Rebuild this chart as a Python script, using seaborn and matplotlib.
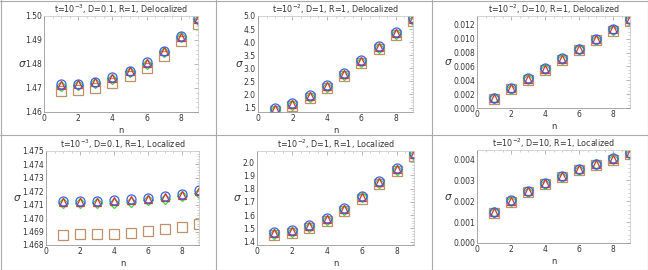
import numpy as np
import pandas as pd
import matplotlib
matplotlib.use("Agg")
import matplotlib.pyplot as plt
from matplotlib.lines import Line2D
from matplotlib.ticker import MultipleLocator, FormatStrFormatter
import seaborn as sns

sns.set_theme(style="white")
plt.rcParams['font.family'] = ['DejaVu Sans']

n = [1, 2, 3, 4, 5, 6, 7, 8, 9]

titles = [
    "t=10$^{-3}$, D=0.1, R=1, Delocalized",
    "t=10$^{-2}$, D=1, R=1, Delocalized",
    "t=10$^{-2}$, D=10, R=1, Delocalized",
    "t=10$^{-3}$, D=0.1, R=1, Localized",
    "t=10$^{-2}$, D=1, R=1, Localized",
    "t=10$^{-2}$, D=10, R=1, Localized",
]

# Panel 1
p1_circle = [1.4715, 1.4718, 1.4727, 1.4745, 1.4772, 1.4808, 1.4856, 1.4918, 1.4990]
p1_triangle = [1.4712, 1.4715, 1.4724, 1.4742, 1.4769, 1.4805, 1.4853, 1.4914, 1.4986]
p1_diamond = [1.4709, 1.4712, 1.4721, 1.4739, 1.4766, 1.4802, 1.4850, 1.4911, 1.4982]
p1_square = [1.4688, 1.4692, 1.4702, 1.4720, 1.4748, 1.4785, 1.4833, 1.4894, 1.4968]
# Panel 2
p2_circle = [1.48, 1.66, 1.97, 2.37, 2.83, 3.33, 3.86, 4.39, 4.93]
p2_triangle = [1.45, 1.63, 1.93, 2.33, 2.79, 3.29, 3.82, 4.35, 4.89]
p2_diamond = [1.42, 1.60, 1.90, 2.30, 2.76, 3.26, 3.79, 4.32, 4.86]
p2_square = [1.38, 1.55, 1.85, 2.25, 2.71, 3.21, 3.73, 4.26, 4.79]
# Panel 3
p3_circle = [0.00150, 0.00290, 0.00432, 0.00575, 0.00718, 0.00860, 0.01003, 0.01145, 0.01288]
p3_triangle = [0.00145, 0.00284, 0.00426, 0.00568, 0.00711, 0.00853, 0.00995, 0.01137, 0.01280]
p3_diamond = [0.00140, 0.00279, 0.00420, 0.00562, 0.00704, 0.00846, 0.00988, 0.01130, 0.01272]
p3_square = [0.00132, 0.00270, 0.00411, 0.00553, 0.00694, 0.00836, 0.00977, 0.01119, 0.01260]
# Panel 4
p4_circle = [1.47128, 1.47128, 1.47129, 1.47133, 1.47140, 1.47150, 1.47163, 1.47182, 1.47207]
p4_triangle = [1.47122, 1.47122, 1.47123, 1.47127, 1.47134, 1.47144, 1.47157, 1.47176, 1.47201]
p4_diamond = [1.47111, 1.47111, 1.47112, 1.47116, 1.47123, 1.47133, 1.47146, 1.47165, 1.47190]
p4_square = [1.46878, 1.46879, 1.46881, 1.46885, 1.46893, 1.46903, 1.46917, 1.46935, 1.46960]
# Panel 5
p5_circle = [1.475, 1.490, 1.525, 1.580, 1.657, 1.748, 1.858, 1.958, 2.072]
p5_triangle = [1.468, 1.483, 1.518, 1.573, 1.650, 1.741, 1.851, 1.951, 2.065]
p5_diamond = [1.461, 1.476, 1.511, 1.566, 1.643, 1.734, 1.844, 1.944, 2.058]
p5_square = [1.450, 1.465, 1.500, 1.555, 1.632, 1.723, 1.833, 1.933, 2.047]
# Panel 6
p6_circle = [0.00150, 0.00205, 0.00250, 0.00288, 0.00322, 0.00354, 0.00380, 0.00406, 0.00432]
p6_triangle = [0.00148, 0.00203, 0.00248, 0.00286, 0.00320, 0.00352, 0.00378, 0.00404, 0.00430]
p6_diamond = [0.00146, 0.00201, 0.00246, 0.00284, 0.00318, 0.00350, 0.00376, 0.00402, 0.00428]
p6_square = [0.00143, 0.00198, 0.00243, 0.00281, 0.00315, 0.00347, 0.00373, 0.00399, 0.00425]

panels = [
    (p1_circle, p1_triangle, p1_diamond, p1_square),
    (p2_circle, p2_triangle, p2_diamond, p2_square),
    (p3_circle, p3_triangle, p3_diamond, p3_square),
    (p4_circle, p4_triangle, p4_diamond, p4_square),
    (p5_circle, p5_triangle, p5_diamond, p5_square),
    (p6_circle, p6_triangle, p6_diamond, p6_square),
]

ylims = [(1.46, 1.50), (1.33, 5.0), (0.0, 0.0133), (1.468, 1.475), (1.375, 2.085), (0.0, 0.00445)]
ysteps = [0.01, 0.5, 0.002, 0.001, 0.1, 0.001]
yfmts = ["%.2f", "%.1f", "%.3f", "%.3f", "%.1f", "%.3f"]
yminor = [0.002, 0.1, 0.0005, 0.0002, 0.02, 0.0002]

# series style: (marker, color, size) in draw order
series_styles = [
    ("s", "#c09068", 7.5),
    ("D", "#33dd33", 5.0),
    ("^", "#e03030", 6.0),
    ("o", "#3a5ef0", 6.5),
]

W, H = 648, 270
fig = plt.figure(figsize=(W / 100, H / 100), dpi=100)

# axes boxes in pixels: left, right, top, bottom
boxes = [
    (44, 198, 16, 112),
    (258, 413, 16, 112),
    (477, 630, 16, 108),
    (46, 199, 151, 245),
    (257, 414, 151, 245),
    (477, 630, 150, 243),
]
# horizontal offset (px) of the sigma label centre from the axes' left edge
sigma_offsets = [22, 19, 29, 29, 20, 29]

for i, (box, data) in enumerate(zip(boxes, panels)):
    l, r, t, b = box
    ax = fig.add_axes([l / W, 1 - b / H, (r - l) / W, (b - t) / H])
    circle, tri, dia, sq = data
    order = [sq, dia, tri, circle]
    for vals, (mk, col, ms) in zip(order, series_styles):
        df = pd.DataFrame({"n": n, "sigma": vals})
        sns.lineplot(data=df, x="n", y="sigma", ax=ax, marker=mk, linestyle="",
                     markerfacecolor="none", markeredgecolor=col, markeredgewidth=0.9,
                     markersize=ms, color=col, legend=False)
    ax.set_xlim(0, 9)
    ax.set_ylim(*ylims[i])
    ax.xaxis.set_major_locator(MultipleLocator(2))
    ax.xaxis.set_minor_locator(MultipleLocator(0.5))
    ax.yaxis.set_major_locator(MultipleLocator(ysteps[i]))
    ax.yaxis.set_minor_locator(MultipleLocator(yminor[i]))
    ax.yaxis.set_major_formatter(FormatStrFormatter(yfmts[i]))
    ax.tick_params(axis="both", which="major", direction="in", length=3, width=0.5,
                   labelsize=5.5, colors="#999999", labelcolor="#333333", pad=1.5)
    ax.tick_params(axis="both", which="minor", direction="in", length=1.5, width=0.4,
                   colors="#aaaaaa")
    ax.tick_params(top=True, right=True, which="both")
    ax.set_xlabel("n", fontsize=6, color="#333333", labelpad=2)
    ax.set_ylabel("σ", fontsize=7.5, color="#333333", rotation=0,
                  fontstyle="italic", va="center", ha="center")
    ax.yaxis.set_label_coords(-sigma_offsets[i] / (r - l), 0.5)
    ax.set_title(titles[i], fontsize=5.8, color="#333333", pad=2.5)
    for side in ["left", "bottom"]:
        ax.spines[side].set_color("#999999")
        ax.spines[side].set_linewidth(0.6)
    for side in ["top", "right"]:
        ax.spines[side].set_color("#cccccc")
        ax.spines[side].set_linewidth(0.6)
    ax.set_facecolor("white")

# grid cell borders
lc = "#aaaaaa"
for x in [0.5 / W, 216 / W, 432 / W, 1 - 0.5 / W]:
    fig.add_artist(Line2D([x, x], [0, 1], color=lc, lw=0.8, transform=fig.transFigure))
for y in [0.5 / H, 1 - 135 / H, 1 - 0.5 / H]:
    fig.add_artist(Line2D([0, 1], [y, y], color=lc, lw=0.8, transform=fig.transFigure))

fig.savefig("out.png", dpi=100)
